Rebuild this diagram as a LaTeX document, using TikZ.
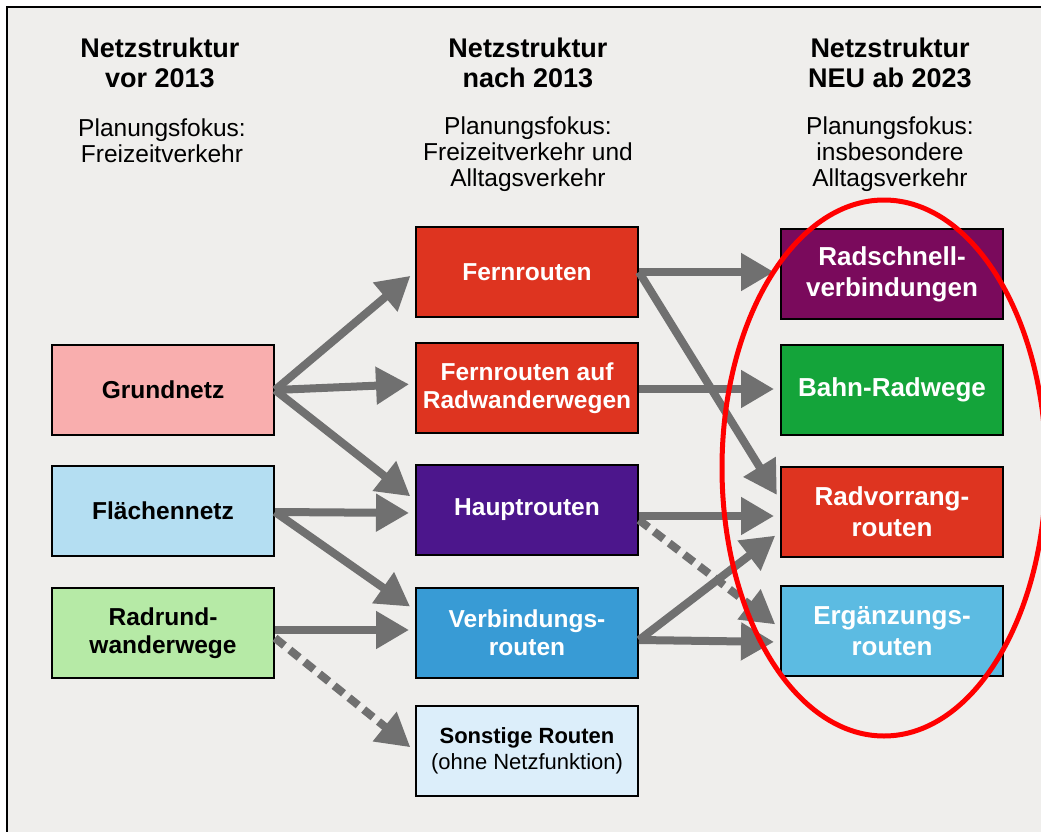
\documentclass[tikz,border=0pt]{standalone}
\usepackage{fontspec}
\setmainfont{Liberation Sans}
\usetikzlibrary{arrows.meta}

\definecolor{bggray}{RGB}{239,238,236}
\definecolor{flowgray}{RGB}{112,112,112}
\definecolor{grundpink}{RGB}{249,174,174}
\definecolor{flaechblue}{RGB}{180,222,242}
\definecolor{radgreen}{RGB}{182,234,166}
\definecolor{fernred}{RGB}{222,52,32}
\definecolor{hauptviolet}{RGB}{76,22,140}
\definecolor{verbblue}{RGB}{56,155,213}
\definecolor{sonstblue}{RGB}{220,238,250}
\definecolor{schnellplum}{RGB}{122,10,92}
\definecolor{bahngreen}{RGB}{20,164,58}
\definecolor{erglblue}{RGB}{92,187,226}

\tikzset{
  netbox/.style={draw=black, line width=2pt, minimum width=222pt, minimum height=90pt,
    align=center, font=\fontsize{24.5}{28}\selectfont\bfseries},
  darkbox/.style={netbox, text=white},
  newbox/.style={darkbox, font=\fontsize{26}{31}\selectfont\bfseries},
  flow/.style={draw=flowgray, line width=8pt, -{Triangle[length=33pt,width=36pt]}, shorten >=6pt},
  flowdash/.style={flow, dash pattern=on 12pt off 7pt},
  head/.style={align=center, font=\fontsize{27}{30}\selectfont\bfseries},
  focus/.style={align=center, font=\fontsize{24.5}{26}\selectfont},
}

\begin{document}
\begin{tikzpicture}[x=1pt, y=-1pt]
      \useasboundingbox (0,0) rectangle (1041,832);
      \fill[bggray] (7,7) rectangle (1045,836);
      \draw[line width=2.5pt] (7,836) -- (7,7) -- (1045,7);

      % column heads
      \node[head]  (h1) at (160,63)  {Netzstruktur\\vor 2013};
      \node[head]  (h2) at (528,63)  {Netzstruktur\\nach 2013};
      \node[head]  (h3) at (890,63)  {Netzstruktur\\NEU ab 2023};
      \node[focus] (f1) at (162,141) {Planungsfokus:\\Freizeitverkehr};
      \node[focus] (f2) at (528,154) {Planungsfokus:\\Freizeitverkehr und\\Alltagsverkehr};
      \node[focus] (f3) at (890,154) {Planungsfokus:\\insbesondere\\Alltagsverkehr};

      % vor 2013
      \node[netbox, fill=grundpink]  (grund)   at (163,390) {Grundnetz};
      \node[netbox, fill=flaechblue] (flaeche) at (163,511) {Flächennetz};
      \node[netbox, fill=radgreen]   (radrund) at (163,633) {Radrund-\\wanderwege};

      % nach 2013
      \node[darkbox, fill=fernred]     (fern)    at (527,272) {Fernrouten};
      \node[darkbox, fill=fernred]     (fernauf) at (527,388) {Fernrouten auf\\Radwanderwegen};
      \node[darkbox, fill=hauptviolet] (haupt)   at (527,510) {Hauptrouten};
      \node[darkbox, fill=verbblue]    (verb)    at (527,633) {Verbindungs-\\routen};
      \node[netbox, fill=sonstblue, font=\fontsize{22}{26}\selectfont] (sonst) at (527,751)
        {\textbf{Sonstige Routen}\\(ohne Netzfunktion)};

      % ab 2023
      \node[newbox, fill=schnellplum] (schnell) at (892,274) {Radschnell-\\verbindungen};
      \node[newbox, fill=bahngreen]   (bahn)    at (892,390) {Bahn-Radwege};
      \node[newbox, fill=fernred]     (vorrang) at (892,512) {Radvorrang-\\routen};
      \node[newbox, fill=erglblue]    (ergaenz) at (892,631) {Ergänzungs-\\routen};

      % vor 2013 -> nach 2013
      \draw[flow] (grund.east) -- (fern.west);
      \draw[flow] (grund.east) -- ([yshift=4pt]fernauf.west);
      \draw[flow] (grund.east) -- ([yshift=10pt]haupt.west);
      \draw[flow] ([yshift=-1pt]flaeche.east) -- ([yshift=-3pt]haupt.west);
      \draw[flow] ([yshift=-1pt]flaeche.east) -- ([yshift=23pt]verb.west);
      \draw[flow] ([yshift=3pt]radrund.east) -- ([yshift=3pt]verb.west);
      \draw[flowdash] ([yshift=-5pt]radrund.east) -- (sonst.west);

      % nach 2013 -> ab 2023
      \draw[flow] (fern.east) -- ([yshift=2pt]schnell.west);
      \draw[flow] (fern.east) -- ([yshift=12pt]vorrang.west);
      \draw[flow] ([yshift=-1pt]fernauf.east) -- ([yshift=1pt]bahn.west);
      \draw[flow] ([yshift=-6pt]haupt.east) -- ([yshift=-4pt]vorrang.west);
      \draw[flowdash] ([yshift=-10pt]haupt.east) -- ([yshift=3pt]ergaenz.west);
      \draw[flow] ([yshift=-7pt]verb.east) -- ([yshift=-20pt]vorrang.west);
      \draw[flow] ([yshift=-7pt]verb.east) -- ([yshift=-11pt]ergaenz.west);

      \draw[red, line width=5pt] (884,468) ellipse [x radius=162, y radius=268];
\end{tikzpicture}
\end{document}
